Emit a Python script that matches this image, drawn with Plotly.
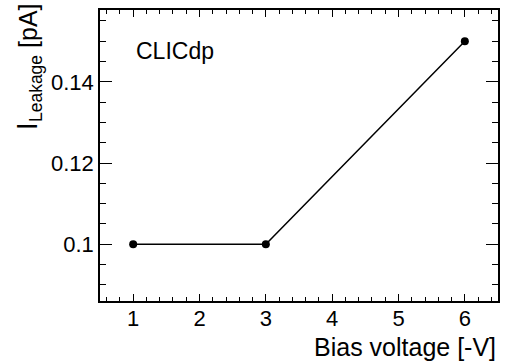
import plotly.graph_objects as go

# Leakage current measured at each bias voltage
bias_voltage = [1, 3, 6]
leakage_pA = [0.10, 0.10, 0.15]

x_ticks = [1, 2, 3, 4, 5, 6]
y_ticks = [0.10, 0.12, 0.14]
y_tick_text = ["0.1", "0.12", "0.14"]

FONT = "Liberation Sans, Arial, Helvetica, sans-serif"

fig = go.Figure()
fig.add_trace(go.Scatter(
    x=bias_voltage, y=leakage_pA,
    mode="lines+markers",
    line=dict(color="black", width=1.5),
    marker=dict(color="black", size=8, symbol="circle"),
    showlegend=False,
))

axis_common = dict(
    showline=True, linecolor="black", linewidth=1.5,
    mirror="allticks", ticks="inside", tickcolor="black",
    showgrid=False, zeroline=False,
    tickfont=dict(family=FONT, size=22, color="black"),
)

fig.update_xaxes(
    range=[0.5, 6.5], tickvals=x_ticks, ticklen=7, tickwidth=1,
    ticklabelstandoff=-3,
    minor=dict(dtick=0.2, ticks="inside", ticklen=4, tickcolor="black", tickwidth=1),
    **axis_common,
)
fig.update_yaxes(
    range=[0.086, 0.1577], tickvals=y_ticks, ticktext=y_tick_text,
    ticklen=12, tickwidth=1,
    minor=dict(dtick=0.005, ticks="inside", ticklen=6, tickcolor="black", tickwidth=1),
    **axis_common,
)

fig.add_annotation(
    text="Bias voltage [-V]", xref="paper", yref="paper",
    x=1.0, y=-0.158, xanchor="right", yanchor="middle", showarrow=False,
    font=dict(family=FONT, size=25, color="black"),
)
fig.add_annotation(
    text="<span style='font-size:29px'>I</span><sub>Leakage</sub> [pA]",
    xref="paper", yref="paper",
    x=-0.18, y=1.03, xanchor="center", yanchor="top", textangle=-90,
    showarrow=False, font=dict(family=FONT, size=25, color="black"),
)
fig.add_annotation(
    text="CLICdp", xref="paper", yref="paper",
    x=0.085, y=0.859, xanchor="left", yanchor="middle", showarrow=False,
    font=dict(family=FONT, size=23, color="black"),
)

fig.update_layout(
    width=506, height=363,
    margin=dict(l=100, r=6, t=10, b=62),
    paper_bgcolor="white", plot_bgcolor="white",
    font=dict(family=FONT, color="black"),
)

fig.write_html("out.html")
